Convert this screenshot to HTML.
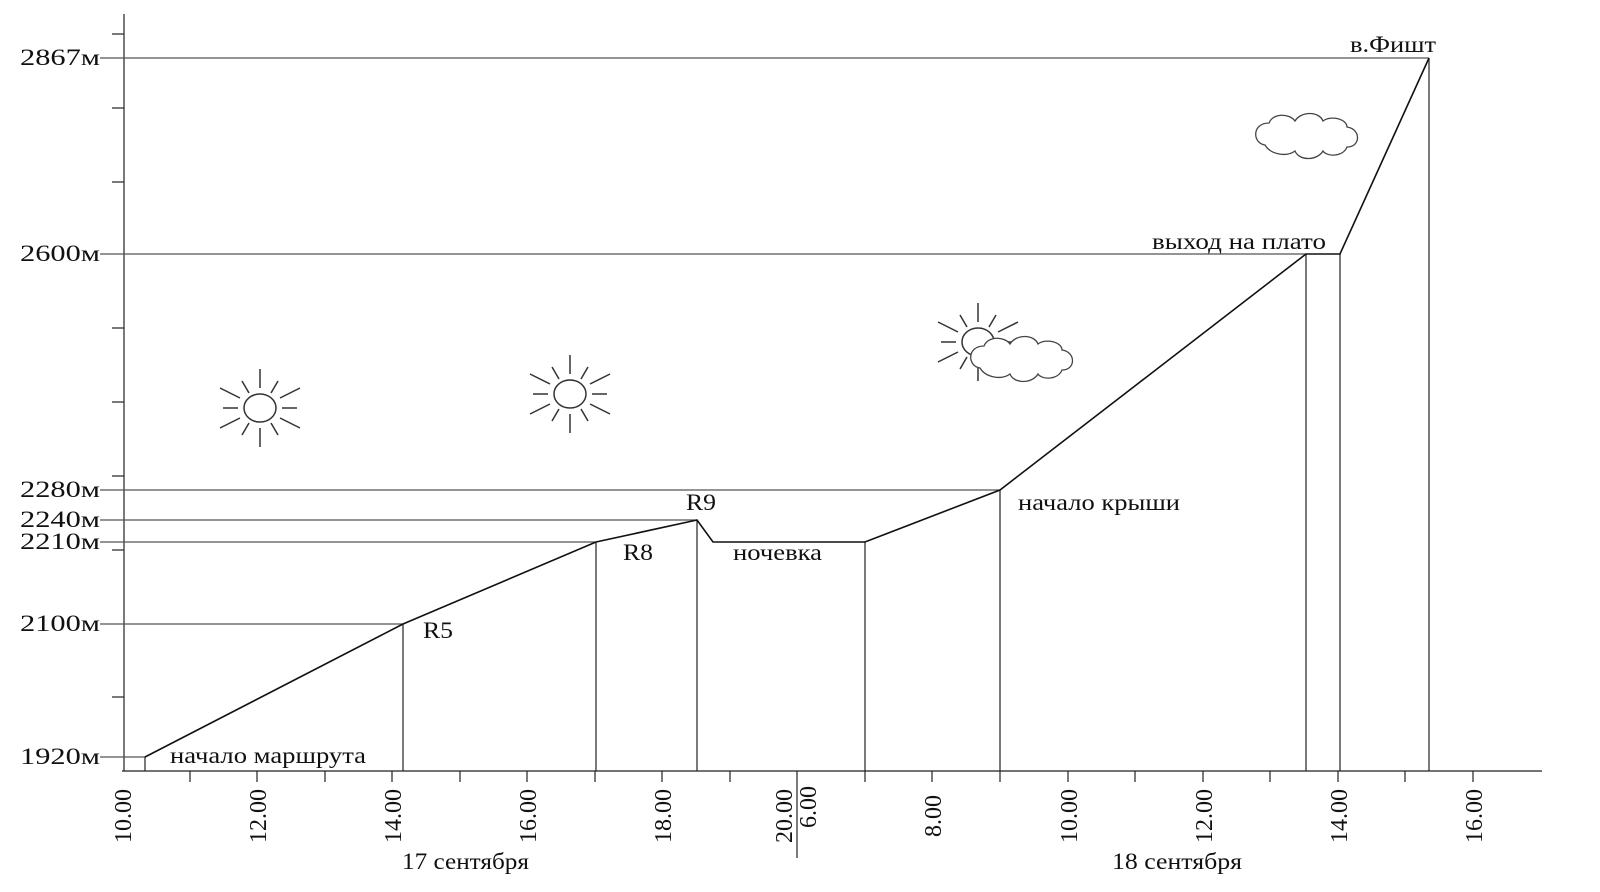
<!DOCTYPE html>
<html><head><meta charset="utf-8"><style>
body{margin:0;background:#fff}
svg{display:block}
text{font-family:"Liberation Serif",serif;fill:#111}
</style></head><body>
<svg width="1600" height="892" viewBox="0 0 1600 892" xmlns="http://www.w3.org/2000/svg">
<defs>
<g id="sun" stroke="#333" stroke-width="1.5" fill="none">
<ellipse cx="0" cy="0" rx="16" ry="14"/>
<line x1="0" y1="-20" x2="0" y2="-39"/><line x1="0" y1="20" x2="0" y2="39"/>
<line x1="-22" y1="0" x2="-37" y2="0"/><line x1="22" y1="0" x2="37" y2="0"/>
<line x1="-20" y1="-10" x2="-40" y2="-20"/><line x1="20" y1="-10" x2="40" y2="-20"/>
<line x1="-20" y1="10" x2="-40" y2="20"/><line x1="20" y1="10" x2="40" y2="20"/>
<line x1="-11" y1="-15" x2="-18" y2="-27"/><line x1="11" y1="-15" x2="18" y2="-27"/>
<line x1="-11" y1="15" x2="-18" y2="27"/><line x1="11" y1="15" x2="18" y2="27"/>
</g>
<path id="cloud" d="M-42,8 C-55,6 -55,-14 -38,-14 C-34,-24 -18,-24 -12,-16 C-6,-26 12,-26 16,-16 C24,-22 40,-18 40,-10 C54,-8 54,10 40,10 C36,20 20,20 16,14 C10,24 -8,24 -12,14 C-20,20 -36,18 -42,8 Z" fill="#fff" stroke="#444" stroke-width="1.3"/>
</defs>
<g stroke="#222" stroke-width="1.2" fill="none">
<line x1="124" y1="14" x2="124" y2="771"/>
<line x1="122" y1="771" x2="1542" y2="771"/>
<line x1="112" y1="34" x2="124" y2="34"/><line x1="112" y1="108" x2="124" y2="108"/>
<line x1="112" y1="182" x2="124" y2="182"/><line x1="112" y1="328" x2="124" y2="328"/>
<line x1="112" y1="402" x2="124" y2="402"/><line x1="112" y1="476" x2="124" y2="476"/>
<line x1="112" y1="550" x2="124" y2="550"/><line x1="112" y1="697" x2="124" y2="697"/>
<g stroke="#555">
<line x1="100" y1="58" x2="1429" y2="58"/>
<line x1="100" y1="254" x2="1306" y2="254"/>
<line x1="100" y1="490" x2="1000" y2="490"/>
<line x1="100" y1="520" x2="697" y2="520"/>
<line x1="100" y1="542" x2="596" y2="542"/>
<line x1="100" y1="624" x2="403" y2="624"/>
<line x1="100" y1="757" x2="145" y2="757"/>
</g>
<line x1="145" y1="757" x2="145" y2="771"/>
<line x1="403" y1="624" x2="403" y2="771"/>
<line x1="596" y1="542" x2="596" y2="771"/>
<line x1="697" y1="520" x2="697" y2="771"/>
<line x1="865" y1="542" x2="865" y2="771"/>
<line x1="1000" y1="490" x2="1000" y2="771"/>
<line x1="1306" y1="254" x2="1306" y2="771"/>
<line x1="1340" y1="254" x2="1340" y2="771"/>
<line x1="1429" y1="58" x2="1429" y2="771"/>
<polyline stroke="#111" stroke-width="1.6" points="145,757 403,624 596,542 697,520 713,542 865,542 1000,490 1306,254 1340,254 1429,58"/>
<line x1="797" y1="771" x2="797" y2="858"/>
<line x1="190" y1="771" x2="190" y2="782"/><line x1="257" y1="771" x2="257" y2="782"/>
<line x1="325" y1="771" x2="325" y2="782"/><line x1="392" y1="771" x2="392" y2="782"/>
<line x1="460" y1="771" x2="460" y2="782"/><line x1="527" y1="771" x2="527" y2="782"/>
<line x1="595" y1="771" x2="595" y2="782"/><line x1="662" y1="771" x2="662" y2="782"/>
<line x1="730" y1="771" x2="730" y2="782"/><line x1="865" y1="771" x2="865" y2="782"/>
<line x1="932" y1="771" x2="932" y2="782"/><line x1="1000" y1="771" x2="1000" y2="782"/>
<line x1="1068" y1="771" x2="1068" y2="782"/><line x1="1135" y1="771" x2="1135" y2="782"/>
<line x1="1203" y1="771" x2="1203" y2="782"/><line x1="1270" y1="771" x2="1270" y2="782"/>
<line x1="1338" y1="771" x2="1338" y2="782"/><line x1="1405" y1="771" x2="1405" y2="782"/>
<line x1="1473" y1="771" x2="1473" y2="782"/>
</g>
<use href="#sun" x="260" y="408"/>
<use href="#sun" x="570" y="394"/>
<use href="#sun" x="978" y="342"/>
<use href="#cloud" x="1022" y="360"/>
<use href="#cloud" x="1307" y="137"/>
<g font-size="23" lengthAdjust="spacingAndGlyphs">
<text x="20" y="65" textLength="80" lengthAdjust="spacingAndGlyphs">2867м</text>
<text x="20" y="261" textLength="80" lengthAdjust="spacingAndGlyphs">2600м</text>
<text x="20" y="497" textLength="80" lengthAdjust="spacingAndGlyphs">2280м</text>
<text x="20" y="527" textLength="80" lengthAdjust="spacingAndGlyphs">2240м</text>
<text x="20" y="549" textLength="80" lengthAdjust="spacingAndGlyphs">2210м</text>
<text x="20" y="631" textLength="80" lengthAdjust="spacingAndGlyphs">2100м</text>
<text x="20" y="764" textLength="80" lengthAdjust="spacingAndGlyphs">1920м</text>
<text x="170" y="763" textLength="196" lengthAdjust="spacingAndGlyphs">начало маршрута</text>
<text x="423" y="638" textLength="30" lengthAdjust="spacingAndGlyphs">R5</text>
<text x="623" y="560" textLength="30" lengthAdjust="spacingAndGlyphs">R8</text>
<text x="686" y="510" textLength="30" lengthAdjust="spacingAndGlyphs">R9</text>
<text x="733" y="560" textLength="89" lengthAdjust="spacingAndGlyphs">ночевка</text>
<text x="1018" y="510" textLength="162" lengthAdjust="spacingAndGlyphs">начало крыши</text>
<text x="1152" y="249" textLength="174" lengthAdjust="spacingAndGlyphs">выход на плато</text>
<text x="1350" y="52" textLength="86" lengthAdjust="spacingAndGlyphs">в.Фишт</text>
<text x="402" y="869" textLength="127" lengthAdjust="spacingAndGlyphs">17 сентября</text>
<text x="1112" y="869" textLength="130" lengthAdjust="spacingAndGlyphs">18 сентября</text>
</g>
<g font-size="24" text-anchor="middle">
<text transform="translate(131,816) rotate(-90)">10.00</text>
<text transform="translate(266,816) rotate(-90)">12.00</text>
<text transform="translate(401,816) rotate(-90)">14.00</text>
<text transform="translate(536,816) rotate(-90)">16.00</text>
<text transform="translate(671,816) rotate(-90)">18.00</text>
<text transform="translate(792,816) rotate(-90)">20.00</text>
<text transform="translate(816,807) rotate(-90)">6.00</text>
<text transform="translate(941,816) rotate(-90)">8.00</text>
<text transform="translate(1077,816) rotate(-90)">10.00</text>
<text transform="translate(1212,816) rotate(-90)">12.00</text>
<text transform="translate(1347,816) rotate(-90)">14.00</text>
<text transform="translate(1482,816) rotate(-90)">16.00</text>
</g>
</svg>
</body></html>
